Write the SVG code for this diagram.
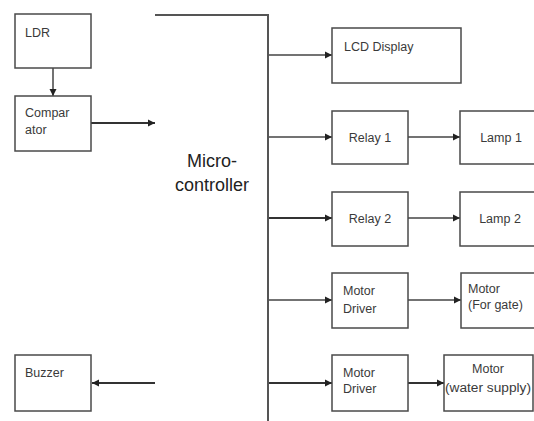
<svg xmlns="http://www.w3.org/2000/svg" width="534" height="421" viewBox="0 0 534 421">
<defs>
<style>
.box{fill:#fff;stroke:#4a4a4a;stroke-width:1.5}
.t{font-family:"Liberation Sans",Arial,sans-serif;font-size:12.5px;fill:#3a3a3a}
.mc{font-family:"Liberation Sans",Arial,sans-serif;font-size:18px;fill:#222;text-anchor:middle}
.c{stroke:#444;stroke-width:1.5;fill:none;marker-end:url(#ah)}
.ck{stroke:#333;stroke-width:2.2;fill:none;marker-end:url(#ah)}
.bus{stroke:#555;stroke-width:2;fill:none}
</style>
<marker id="ah" markerUnits="userSpaceOnUse" markerWidth="8" markerHeight="8" refX="7" refY="4" orient="auto">
<path d="M0,0.5 L7,4 L0,7.5 z" fill="#222"/>
</marker>
</defs>
<rect width="534" height="421" fill="#fff"/>
<g id="connectors">
<path class="c" d="M53,68 V96"/>
<path class="ck" d="M91,123 H155"/>
<path class="ck" d="M155,383 H92"/>
<path class="c" d="M268,55 H332"/>
<path class="c" d="M268,137 H332"/>
<path class="c" d="M408,137 H460"/>
<path class="ck" d="M268,218 H332"/>
<path class="c" d="M408,218 H460"/>
<path class="c" d="M268,300 H332"/>
<path class="c" d="M408,300 H461"/>
<path class="ck" d="M268,383 H332"/>
<path class="ck" d="M408,383 H444"/>
</g>
<g id="microcontroller">
<path class="bus" d="M155,15 H268 V421"/>
<text class="mc" x="212" y="167">Micro-</text>
<text class="mc" x="212" y="191">controller</text>
</g>
<g id="ldr"><rect class="box" x="15" y="14" width="76" height="54"/><text class="t" x="25" y="37">LDR</text></g>
<g id="comparator"><rect class="box" x="15" y="96" width="76" height="55"/><text class="t" x="25" y="117">Compar</text><text class="t" x="25" y="134">ator</text></g>
<g id="buzzer"><rect class="box" x="15" y="355" width="76" height="56"/><text class="t" x="25" y="377">Buzzer</text></g>
<g id="lcd"><rect class="box" x="332" y="28" width="129" height="55"/><text class="t" x="344" y="51">LCD Display</text></g>
<g id="relay1"><rect class="box" x="332" y="111" width="76" height="53"/><text class="t" x="370" y="142" text-anchor="middle">Relay 1</text></g>
<g id="lamp1"><rect class="box" x="460" y="111" width="82" height="53"/><text class="t" x="501" y="142" text-anchor="middle">Lamp 1</text></g>
<g id="relay2"><rect class="box" x="332" y="192" width="76" height="54"/><text class="t" x="370" y="223" text-anchor="middle">Relay 2</text></g>
<g id="lamp2"><rect class="box" x="460" y="192" width="82" height="54"/><text class="t" x="500" y="223" text-anchor="middle">Lamp 2</text></g>
<g id="motordriver1"><rect class="box" x="332" y="273" width="76" height="55"/><text class="t" x="343" y="295">Motor</text><text class="t" x="343" y="313">Driver</text></g>
<g id="motorgate"><rect class="box" x="461" y="273" width="80" height="55"/><text class="t" x="468" y="293">Motor</text><text class="t" x="468" y="309">(For gate)</text></g>
<g id="motordriver2"><rect class="box" x="332" y="355" width="76" height="56"/><text class="t" x="343" y="377">Motor</text><text class="t" x="343" y="393">Driver</text></g>
<g id="motorwater"><rect class="box" x="444" y="355" width="89" height="56"/><text class="t" x="488" y="373" text-anchor="middle">Motor</text><text class="t" x="488" y="392" text-anchor="middle" textLength="86" lengthAdjust="spacingAndGlyphs">(water supply)</text></g>
</svg>
